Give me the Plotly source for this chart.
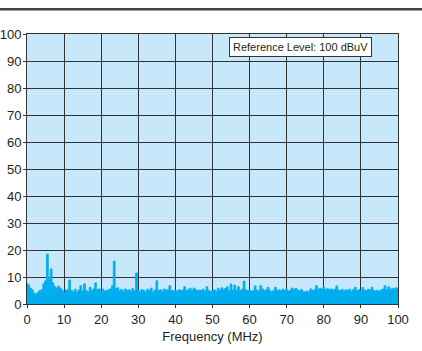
import numpy as np
import plotly.graph_objects as go

# Spectrum sweep: 0-100 MHz in 0.5 MHz bins, level in dBuV
freq_mhz = np.arange(0, 100.5, 0.5)
level_dbuv = [
    7.6, 7.0, 5.8, 5.2, 4.0, 3.7, 4.4, 5.0, 5.3, 7.5,
    8.6, 18.5, 9.2, 13.0, 7.8, 6.5, 6.0, 6.6, 5.8, 5.2,
    4.2, 5.0, 5.4, 8.9, 5.0, 4.6, 5.5, 4.4, 5.2, 6.8,
    4.8, 7.5, 5.0, 4.5, 6.2, 5.0, 5.6, 7.8, 5.3, 5.6,
    4.6, 5.5, 4.8, 5.0, 5.3, 5.6, 6.8, 15.9, 5.8, 6.0,
    5.0, 5.4, 4.7, 5.6, 5.0, 5.3, 4.8, 5.7, 5.0, 11.5,
    5.2, 4.6, 5.4, 5.0, 4.4, 5.5, 5.0, 5.9, 4.5, 5.2,
    8.6, 5.0, 5.3, 4.7, 5.6, 5.0, 5.4, 6.8, 5.0, 4.8,
    5.1, 4.7, 5.3, 5.0, 5.2, 6.4, 4.9, 5.4, 5.8, 5.0,
    5.9, 5.3, 4.9, 5.2, 5.0, 5.5, 4.8, 6.4, 5.1, 4.6,
    4.9, 5.3, 4.7, 5.8, 5.2, 6.0, 5.4, 5.8, 6.4, 5.0,
    7.4, 5.2, 7.0, 5.1, 6.4, 5.0, 5.6, 8.5, 5.3, 4.9,
    5.2, 4.8, 5.0, 6.7, 5.2, 4.9, 6.8, 5.6, 5.0, 5.3,
    6.2, 5.0, 4.5, 5.1, 6.2, 4.9, 5.3, 4.8, 5.5, 5.0,
    5.4, 4.8, 5.2, 5.9, 5.4, 5.8, 5.2, 4.9, 5.4, 4.6,
    4.5, 4.8, 4.6, 5.6, 5.0, 5.4, 6.8, 5.5, 5.8, 5.6,
    6.3, 5.4, 5.7, 5.2, 5.6, 5.3, 5.5, 6.7, 5.2, 5.0,
    5.4, 4.9, 5.3, 5.1, 5.5, 4.8, 5.4, 6.2, 5.0, 5.3,
    4.9, 6.1, 5.2, 5.0, 5.5, 5.3, 6.2, 5.0, 4.8, 5.1,
    4.7, 5.2, 5.6, 6.8, 5.3, 6.4, 5.5, 5.8, 5.6, 6.0,
    5.8,
]
tick_vals = list(range(0, 101, 10))
ref_label = "Reference Level: 100 dBuV"
x_title = "Frequency (MHz)"

FONT = "Liberation Sans, Arial, Helvetica, sans-serif"
INK = "#231f20"
GRID = "#333333"

fig = go.Figure()
fig.add_trace(go.Scatter(
    x=freq_mhz, y=level_dbuv,
    mode="lines", line=dict(color="#00aeef", width=0.8, shape="hvh"),
    fill="tozeroy", fillcolor="#00aeef",
    hoverinfo="x+y", showlegend=False,
))

axis_common = dict(
    range=[0, 100], tickvals=tick_vals, showgrid=True, gridcolor=GRID, gridwidth=1,
    showline=True, linecolor=GRID, linewidth=1, mirror=True,
    ticks="outside", ticklen=3, tickcolor=GRID, zeroline=False, automargin=False,
    tickfont=dict(family=FONT, size=13, color=INK),
)
fig.update_xaxes(**axis_common,
                 title=dict(text=x_title, font=dict(family=FONT, size=13, color=INK), standoff=6))
fig.update_yaxes(**axis_common, ticklabelstandoff=-1)

fig.add_annotation(
    x=73.7, y=95.3, xref="x", yref="y", text=ref_label, showarrow=False,
    font=dict(family=FONT, size=11, color=INK),
    bgcolor="white", bordercolor=GRID, borderwidth=1, borderpad=3,
)

# rule across the top of the page
fig.add_shape(type="line", xref="paper", yref="paper",
              x0=-27 / 371, x1=(422 - 27) / 371, y0=(304 - 9.3) / 270, y1=(304 - 9.3) / 270,
              line=dict(color="#444444", width=2.5))

fig.update_layout(
    width=422, height=351,
    margin=dict(l=27, r=24, t=34, b=47),
    paper_bgcolor="white", plot_bgcolor="#c6e8fa",
    font=dict(family=FONT, color=INK),
)

fig.write_html("out.html", include_plotlyjs=True)
